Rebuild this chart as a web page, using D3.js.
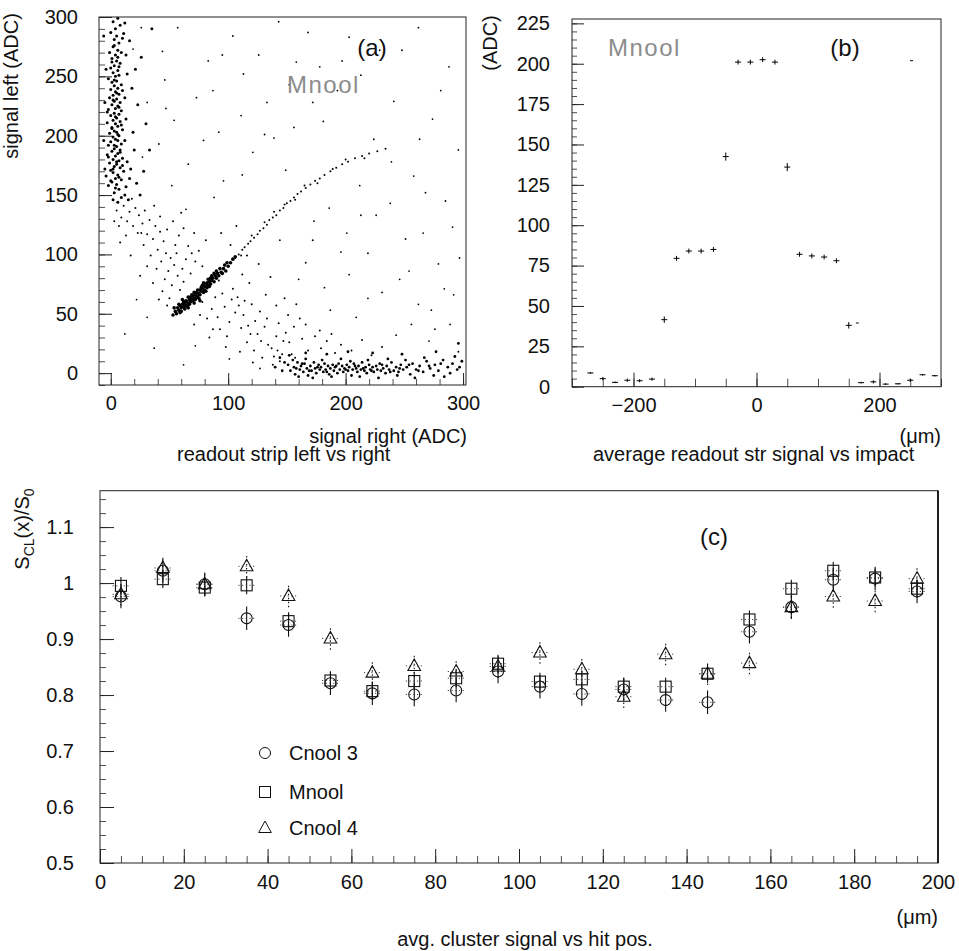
<!DOCTYPE html>
<html><head><meta charset="utf-8">
<script src="https://cdn.jsdelivr.net/npm/d3@7"></script>
<style>
body{margin:0;background:#fff}
svg{display:block}
text{font-family:"Liberation Sans",Arial,Helvetica,sans-serif;fill:#111}
</style>
</head><body>
<svg id="chart" width="959" height="951"></svg>
<script>
// ---------------- Panel (a): readout strip left vs right (ADC) ----------------
const aTicksX = [0, 100, 200, 300];
const aTicksY = [0, 50, 100, 150, 200, 250, 300];
// dense core: signal all on the left strip (right ~ 0)
const aCoreLeft = [[3,152],[7,155],[-2,158],[5,159],[1,161],[9,163],[4,164],[-4,166],[6,167],[2,169],[11,170],[0,171],[8,173],[3,174],[5,176],[-1,177],[7,179],[2,180],[10,181],[4,183],[-3,184],[6,185],[1,187],[8,188],[3,189],[5,191],[-2,192],[9,193],[0,195],[6,196],[4,197],[2,199],[7,200],[-1,202],[5,203],[3,204],[10,205],[1,207],[6,208],[4,210],[-3,211],[8,212],[2,213],[5,215],[0,217],[7,218],[3,219],[9,221],[-2,222],[4,223],[6,225],[1,226],[8,228],[3,229],[5,231],[-1,232],[2,234],[7,235],[4,237],[0,239],[6,240],[3,242],[9,243],[1,245],[5,246],[-2,248],[4,250],[7,251],[2,253],[6,255],[0,257],[3,259],[8,261],[5,263],[1,265],[4,268],[-1,270],[6,272],[2,275],[7,278],[3,281],[5,284],[0,287],[4,290],[8,293],[2,296],[6,299],[4,156],[0,162],[7,165],[2,172],[10,175],[5,178],[-2,182],[8,186],[3,192],[6,201],[1,206],[9,209],[4,216],[-3,220],[7,224],[2,230],[5,236],[10,238],[3,247],[7,258],[1,262],[6,266],[9,270],[3,276],[11,286],[12,150],[15,146],[9,148],[6,144],[2,146],[13,157],[16,164],[14,178],[12,196],[13,214],[12,232],[14,252],[13,268],[10,282],[12,295],[-5,172],[-6,196],[-5,228],[-4,256],[-6,284],[17,172],[19,203],[18,240],[16,280],[21,256],[23,226],[20,188],[22,160],[25,150],[28,170],[26,266],[30,210],[33,188],[35,290]];
// dense core: charge shared between the two strips
const aCoreDiag = [[55,52],[57,55],[58,53],[59,57],[60,55],[61,58],[62,56],[63,59],[64,57],[64,61],[65,60],[66,58],[67,62],[68,60],[68,64],[69,62],[70,65],[71,63],[72,66],[72,62],[73,68],[74,65],[75,67],[76,70],[76,66],[77,69],[78,71],[79,68],[80,73],[80,70],[81,75],[82,72],[83,74],[84,77],[85,75],[86,78],[87,80],[88,77],[89,82],[90,80],[91,84],[92,82],[94,85],[96,88],[98,86],[100,90],[102,93],[58,58],[62,60],[66,64],[70,61],[74,70],[78,74],[82,76],[86,82],[60,52],[65,56],[69,66],[75,63],[79,76],[84,73],[88,84],[93,88],[97,91],[104,96],[106,98],[63,54],[71,68],[77,72],[83,79],[54,55],[56,50],[67,58],[73,64],[53,49],[59,51],[61,62],[66,55],[71,59],[76,61],[81,69],[85,80],[90,86],[95,84],[99,93]];
// dense core: signal all on the right strip (left ~ 0)
const aCoreBottom = [[151,7],[153,2],[156,5],[157,-1],[159,9],[161,3],[162,6],[164,1],[165,8],[167,4],[168,-2],[170,6],[171,2],[173,9],[174,4],[175,0],[177,7],[178,3],[179,5],[181,1],[182,8],[183,3],[185,6],[186,-1],[187,4],[189,7],[190,2],[191,5],[193,0],[194,8],[195,3],[197,6],[198,1],[199,4],[201,7],[202,2],[203,5],[205,-2],[206,3],[207,8],[209,4],[210,1],[211,6],[213,3],[214,9],[216,2],[217,5],[218,0],[220,7],[221,3],[223,5],[224,1],[226,6],[227,3],[229,8],[230,2],[232,4],[234,0],[235,6],[237,3],[239,9],[241,2],[243,5],[245,1],[247,7],[249,3],[252,5],[255,-1],[257,8],[260,3],[263,6],[266,1],[269,10],[272,4],[276,7],[279,2],[283,11],[287,5],[291,8],[295,3],[299,10],[155,11],[160,-3],[166,12],[172,-4],[180,11],[188,-3],[196,12],[204,10],[212,-3],[219,11],[228,-4],[236,12],[244,-2],[251,11],[259,-4],[267,13],[275,-2],[284,-3],[293,14],[158,4],[163,8],[169,2],[176,5],[184,1],[192,6],[200,3],[208,6],[215,4],[222,2],[231,7],[238,1],[246,4],[254,7],[262,2],[271,6],[281,8],[289,0],[297,5],[148,9],[146,2],[144,13],[152,15],[166,17],[184,16],[202,18],[223,17],[248,16],[277,18],[296,25],[140,5]];
// thin band continuing from the shared-charge core
const aDiagLine = [[106,97],[109,100],[112,104],[114,106],[117,109],[119,111],[122,114],[125,117],[127,120],[130,122],[133,125],[135,129],[138,131],[141,133],[144,137],[147,139],[150,143],[153,145],[156,148],[159,151],[162,153],[166,156],[170,159],[174,162],[178,164],[182,167],[187,170],[192,173],[197,176],[202,178],[208,181],[214,183],[220,185],[227,187],[234,189],[111,99],[120,116],[131,127],[139,136],[148,142],[157,146],[165,158],[176,160],[189,172],[200,180],[216,181]];
// diffuse populations
const aArmLeft = [[5,137],[11,141],[16,136],[9,131],[21,139],[14,128],[24,133],[19,124],[29,137],[27,126],[7,124],[33,129],[23,118],[31,117],[38,124],[36,113],[42,119],[28,108],[40,104],[45,111],[34,99],[47,101],[43,94],[51,97],[39,88],[49,86],[54,91],[46,79],[52,74],[57,82],[44,69],[50,63],[59,70],[61,88],[64,96],[56,101],[68,84],[72,94],[66,107],[58,116],[75,103],[48,121],[53,128],[62,122],[37,141],[18,147],[26,118],[13,116],[31,90],[36,76],[41,62],[48,57],[62,77],[69,101],[78,90],[81,112],[71,118],[55,108],[42,132],[60,135],[8,110],[3,128],[17,99],[25,82]];
const aArmRight = [[86,54],[91,47],[97,56],[101,43],[106,51],[111,38],[113,49],[119,33],[123,44],[128,27],[131,39],[137,21],[141,31],[146,16],[152,26],[157,13],[93,37],[99,31],[103,62],[109,57],[116,26],[122,19],[133,46],[139,14],[144,10],[149,34],[89,64],[95,67],[104,71],[108,64],[82,46],[87,37],[76,49],[71,41],[114,61],[127,52],[143,42],[156,39],[163,29],[168,19],[174,31],[179,21],[184,27],[191,17],[118,76],[132,66],[141,57],[151,49],[112,83],[126,92],[136,81],[102,108],[107,124],[94,118],[116,99],[172,112],[161,46],[134,24],[142,19],[147,27],[154,16],[125,33],[117,40],[129,13],[121,9],[138,7],[110,18],[98,22],[166,41],[178,36],[188,33],[196,24],[205,19],[214,28],[222,15],[231,22],[158,58],[148,63],[84,30],[78,60],[92,78],[120,58]];
const aSparse = [[57,291],[83,263],[104,284],[126,268],[143,296],[168,287],[203,283],[229,272],[262,291],[288,258],[46,247],[73,232],[92,203],[111,217],[133,228],[152,243],[181,212],[213,251],[241,229],[274,214],[296,188],[41,193],[66,176],[96,162],[121,186],[149,171],[186,139],[212,158],[239,178],[268,152],[291,123],[201,118],[219,101],[251,113],[279,92],[231,68],[262,58],[289,41],[209,47],[243,32],[271,27],[296,18],[182,72],[203,83],[166,93],[27,182],[31,228],[52,158],[139,198],[158,262],[193,238],[226,133],[254,86],[284,71],[276,37],[22,62],[12,33],[37,21],[62,7],[101,12],[127,4],[31,47],[72,23],[263,197],[178,258],[19,273],[26,291],[44,271],[54,213],[87,238],[113,252],[131,201],[172,228],[197,263],[248,272],[281,238],[156,207],[224,197],[258,166],[285,145],[297,97],[266,118],[238,143],[213,133],[196,102],[173,128],[144,112],[160,79],[187,53],[219,63],[246,79],[273,53],[292,66],[256,41],[88,148],[64,138],[112,167],[79,196],[47,223],[95,268]];

// ---------------- Panel (b): average readout strip signal vs impact ----------------
const bTicksX = [-200, 0, 200];
const bTicksY = [0, 25, 50, 75, 100, 125, 150, 175, 200, 225];
const bImpact = [-270,-250,-230,-210,-190,-170,-150,-130,-110,-90,-70,-50,-30,-10,10,30,50,70,90,110,130,150,170,190,210,230,250,270,290];
const bSignal = [8.5,5,2.7,4,3.7,4.7,41.5,79.5,84,84,85,142.5,201,201,202.5,201,136,82,81,80.3,78,38,2.5,3,1.6,1.8,4,7.4,6.8];
const bError  = [0.5,1,0.5,1,1,1,2,1.5,1.5,1.5,1.5,2.5,1.5,1.5,1.5,1.5,2.5,1.5,1.5,1.5,1.5,2,0.5,1,0.5,0.5,1,0.5,0.5];
const bStrayImpact = [164, 252];
const bStraySignal = [39.5, 202];

// ---------------- Panel (c): avg. cluster signal vs hit position ----------------
const cTicksX = [0,20,40,60,80,100,120,140,160,180,200];
const cTicksY = [0.5,0.6,0.7,0.8,0.9,1.0,1.1];
const cPos   = [5,15,25,35,45,55,65,75,85,95,105,115,125,135,145,155,165,175,185,195];
const cCnool3 = [0.976,1.022,0.998,0.937,0.925,0.821,0.803,0.801,0.808,0.842,0.815,0.802,0.810,0.791,0.787,0.913,0.957,1.006,1.008,0.985];
const cMnool  = [0.995,1.007,0.992,0.996,0.932,0.826,0.807,0.825,0.830,0.856,0.824,0.828,0.815,0.815,0.838,0.935,0.990,1.022,1.010,0.990];
const cCnool4 = [0.980,1.027,0.998,1.030,0.977,0.901,0.840,0.852,0.842,0.851,0.876,0.846,0.797,0.873,0.838,0.857,0.957,0.976,0.968,1.008];
const cErrCnool3 = 0.021, cErrMnool = 0.016, cErrCnool4 = 0.02, cErrX = 2;
const cSeriesNames = ["Cnool 3", "Mnool", "Cnool 4"];

// =====================================================================
const svg = d3.select("#chart");
const INK = "#222";

function frame(x0, x1, y0, y1) {
  svg.append("rect").attr("x", x0).attr("y", y0).attr("width", x1 - x0).attr("height", y1 - y0)
    .attr("fill", "none").attr("stroke", INK).attr("stroke-width", 1);
}
function axisPair(scale, orient, pos, major, minorStep, majLen, minLen, pad, fmt) {
  const mk = orient === "left" ? d3.axisLeft : d3.axisBottom;
  const tr = orient === "left" ? `translate(${pos},0)` : `translate(0,${pos})`;
  const [d0, d1] = scale.domain();
  const lo = Math.ceil(Math.min(d0, d1) / minorStep - 1e-9);
  const hi = Math.floor(Math.max(d0, d1) / minorStep + 1e-9);
  const minor = d3.range(lo, hi + 1).map(k => +(k * minorStep).toFixed(6));
  const gm = svg.append("g").attr("transform", tr)
    .call(mk(scale).tickValues(minor).tickSize(-minLen).tickFormat(""));
  gm.select(".domain").remove();
  gm.selectAll("line").attr("stroke", INK).attr("stroke-width", 0.8);
  const g = svg.append("g").attr("transform", tr)
    .call(mk(scale).tickValues(major).tickSize(-majLen).tickPadding(pad).tickFormat(fmt));
  g.select(".domain").remove();
  g.selectAll("line").attr("stroke", INK).attr("stroke-width", 1);
  g.selectAll("text").attr("font-size", 20).attr("font-family", '"Liberation Sans",Arial,sans-serif').attr("fill", "#111");
  return g;
}
function label(x, y, txt, opts = {}) {
  const t = svg.append("text").attr("x", x).attr("y", y).text(txt)
    .attr("font-size", opts.size || 20).attr("text-anchor", opts.anchor || "start");
  if (opts.rotate) t.attr("transform", `rotate(-90,${x},${y})`);
  if (opts.family) t.attr("font-family", opts.family);
  if (opts.fill) t.style("fill", opts.fill);
  if (opts.weight) t.attr("font-weight", opts.weight);
  if (opts.spacing) t.attr("letter-spacing", opts.spacing);
  return t;
}
const thinFont = "Lato,'Open Sans',Roboto,'DejaVu Sans',sans-serif";

// ---------- Panel (a) ----------
const ax = d3.scaleLinear().domain([-10, 302.5]).range([99, 466]);
const ay = d3.scaleLinear().domain([-10, 300]).range([385, 17]);
const aSets = [[aCoreLeft, 1.5], [aCoreDiag, 1.8], [aCoreBottom, 1.4], [aDiagLine, 1.0], [aArmLeft, 1.0], [aArmRight, 1.0], [aSparse, 0.9]];
const aG = svg.append("g");
aSets.forEach(([pts, r]) => {
  aG.append("g").selectAll("circle").data(pts).join("circle")
    .attr("cx", d => ax(d[0])).attr("cy", d => ay(d[1])).attr("r", r).attr("fill", "#000");
});
frame(99, 466, 17, 385);
axisPair(ay, "left", 99, aTicksY, 10, 13, 6, 21, d3.format("d"));
axisPair(ax, "bottom", 385, aTicksX, 20, 12, 6, 11, d3.format("d"));
label(18, 86, "signal left (ADC)", {rotate: true, anchor: "middle", size: 20});
label(467, 443, "signal right (ADC)", {anchor: "end", size: 20});
label(177, 461, "readout strip left vs right", {size: 20});
label(287, 93, "Mnool", {size: 24, fill: "#8c8c8c", weight: 200, family: thinFont, spacing: 1.5});
label(372, 56, "(a)", {size: 24, anchor: "middle", family: "'Liberation Serif','Times New Roman',serif"});

// ---------- Panel (b) ----------
const bx = d3.scaleLinear().domain([-300, 300]).range([572, 941]);
const by = d3.scaleLinear().domain([0, 227.7]).range([386.7, 19]);
frame(572, 941, 19, 386.7);
axisPair(by, "left", 572, bTicksY, 5, 12, 5, 22, d3.format("d"));
axisPair(bx, "bottom", 386.7, bTicksX, 50, 14, 8, 11, d3.format("d"));
const bPts = bImpact.map((x, i) => ({x, y: bSignal[i], e: bError[i]}));
const bG = svg.append("g").attr("stroke", "#000").attr("stroke-width", 1);
bG.selectAll("line.h").data(bPts).join("line").attr("class", "h")
  .attr("x1", d => bx(d.x) - 3).attr("x2", d => bx(d.x) + 3)
  .attr("y1", d => by(d.y)).attr("y2", d => by(d.y));
bG.selectAll("line.v").data(bPts).join("line").attr("class", "v")
  .attr("x1", d => bx(d.x)).attr("x2", d => bx(d.x))
  .attr("y1", d => by(d.y - d.e)).attr("y2", d => by(d.y + d.e));
svg.append("g").selectAll("rect").data(bStrayImpact.map((x, i) => ({x, y: bStraySignal[i]}))).join("rect")
  .attr("x", d => bx(d.x) - 1.5).attr("y", d => by(d.y) - 0.5).attr("width", 3).attr("height", 1.2).attr("fill", "#333");
label(497, 43, "(ADC)", {rotate: true, anchor: "middle", size: 20});
label(941, 443, "(\u03bcm)", {anchor: "end", size: 20});
label(593, 461, "average readout str signal vs impact", {size: 20});
label(608, 56, "Mnool", {size: 24, fill: "#8c8c8c", weight: 200, family: thinFont, spacing: 1.5});
label(845, 56, "(b)", {size: 24, anchor: "middle", family: "'Liberation Serif','Times New Roman',serif"});

// ---------- Panel (c) ----------
const cx = d3.scaleLinear().domain([0, 200]).range([100, 938]);
const cy = d3.scaleLinear().domain([0.5, 1.165]).range([863, 490.7]);
frame(100, 938, 490.7, 863);
svg.append("line").attr("x1", 938).attr("x2", 938).attr("y1", 490.7).attr("y2", 863).attr("stroke", "#000").attr("stroke-width", 1.6);
axisPair(cy, "left", 100, cTicksY, 0.025, 14, 6, 26, d => d === 1 ? "1" : d3.format(".1f")(d));
axisPair(cx, "bottom", 863, cTicksX, 5, 14, 7, 12, d3.format("d"));

const symbols = {
  circle: (g, x, y) => g.append("circle").attr("cx", x).attr("cy", y).attr("r", 5.5),
  square: (g, x, y) => g.append("rect").attr("x", x - 5.5).attr("y", y - 5.5).attr("width", 11).attr("height", 11),
  triangle: (g, x, y) => g.append("path").attr("d", `M${x},${y - 7}L${x + 6.3},${y + 4.5}L${x - 6.3},${y + 4.5}Z`)
};
const cSeries = [
  {vals: cCnool3, err: cErrCnool3, sym: "circle", dash: null},
  {vals: cMnool, err: cErrMnool, sym: "square", dash: null},
  {vals: cCnool4, err: cErrCnool4, sym: "triangle", dash: "1.5,2.5"}
];
cSeries.forEach(s => {
  const g = svg.append("g");
  cPos.forEach((p, i) => {
    const X = cx(p), Y = cy(s.vals[i]);
    g.append("line").attr("x1", X).attr("x2", X).attr("y1", cy(s.vals[i] - s.err)).attr("y2", cy(s.vals[i] + s.err))
      .attr("stroke", "#111").attr("stroke-width", 1.1).attr("stroke-dasharray", s.dash);
    g.append("line").attr("x1", cx(p - cErrX)).attr("x2", cx(p + cErrX)).attr("y1", Y).attr("y2", Y)
      .attr("stroke", "#444").attr("stroke-width", 1).attr("stroke-dasharray", "1.2,2.5");
    symbols[s.sym](g, X, Y).attr("fill", "none").attr("stroke", "#111").attr("stroke-width", 1.1);
  });
});
// legend
const legG = svg.append("g");
const legRows = [753, 792, 828];
["circle", "square", "triangle"].forEach((sym, i) => {
  symbols[sym](legG, 265, legRows[i]).attr("fill", "none").attr("stroke", "#111").attr("stroke-width", 1);
  label(289, legRows[i] + 7, cSeriesNames[i], {size: 20});
});
// y title with subscripts
const yt = svg.append("text").attr("transform", "translate(29,529) rotate(-90)")
  .attr("text-anchor", "middle").attr("font-size", 20);
yt.append("tspan").text("S");
yt.append("tspan").text("CL").attr("font-size", 14).attr("dy", 5);
yt.append("tspan").text("(x)/S").attr("dy", -5);
yt.append("tspan").text("0").attr("font-size", 14).attr("dy", 5);
label(938, 924, "(\u03bcm)", {anchor: "end", size: 20});
label(525, 946, "avg. cluster signal vs hit pos.", {anchor: "middle", size: 20});
label(714, 545, "(c)", {size: 24, anchor: "middle", family: "'Liberation Serif','Times New Roman',serif"});
</script>
</body></html>
